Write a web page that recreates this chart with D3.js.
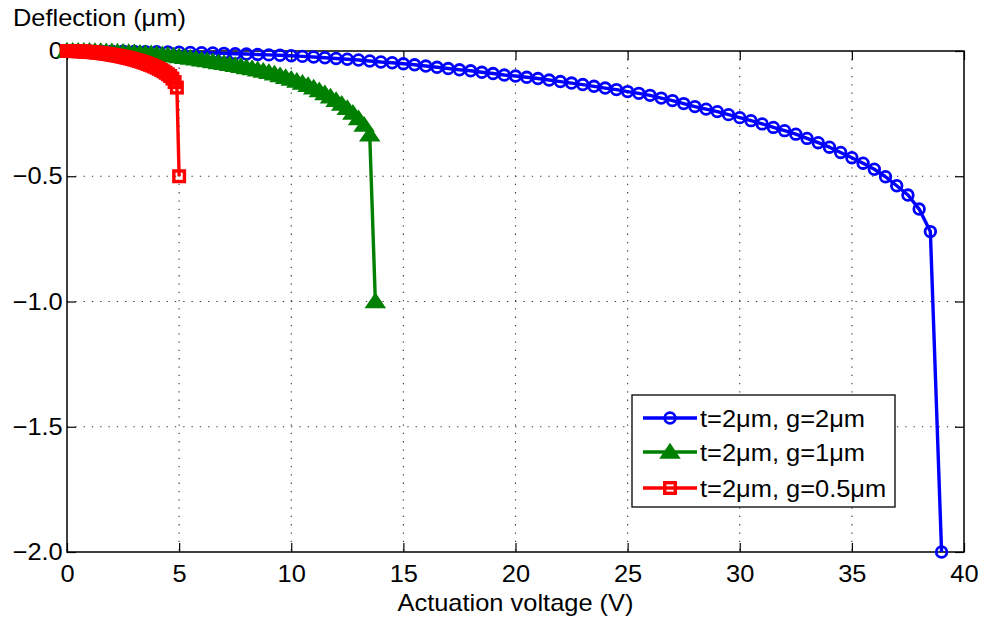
<!DOCTYPE html>
<html>
<head>
<meta charset="utf-8">
<script src="https://cdn.jsdelivr.net/npm/d3@7"></script>
<style>
  body { margin: 0; background: #fff; }
  text { font-family: "Liberation Sans", Arial, Helvetica, sans-serif; fill: #000; }
</style>
</head>
<body>
<svg id="chart" width="983" height="622"></svg>
<script>
// --- data ---

// voltage sweeps (start, step, last)
var blueSweep = [0, 0.5, 39]
var greenSweep = [0, 0.25, 13.75]
var redSweep = [0, 0.1, 5.0]

// deflection (um), t=2um g=2um
var blueDefl = [
  0, -0.0001, -0.0002, -0.0004, -0.0008, -0.0012, -0.0017, -0.0023, -0.003, -0.0038,
  -0.0047, -0.0057, -0.0068, -0.008, -0.0093, -0.0107, -0.0122, -0.0138, -0.0155, -0.0172,
  -0.019, -0.0215, -0.024, -0.027, -0.030, -0.033, -0.036, -0.040, -0.044, -0.047,
  -0.051, -0.055, -0.060, -0.065, -0.070, -0.075, -0.079, -0.085, -0.090, -0.096,
  -0.100, -0.105, -0.110, -0.116, -0.122, -0.128, -0.134, -0.141, -0.148, -0.154,
  -0.162, -0.169, -0.177, -0.188, -0.198, -0.210, -0.222, -0.232, -0.242, -0.254,
  -0.266, -0.278, -0.291, -0.305, -0.318, -0.332, -0.349, -0.366, -0.384, -0.405,
  -0.426, -0.448, -0.472, -0.502, -0.538, -0.575, -0.631, -0.721, -2.0
]

// deflection (um), t=2um g=1um
var greenDefl = [
  0, -0.0001, -0.0002, -0.0005, -0.0008, -0.0012, -0.0017, -0.0023, -0.003, -0.0039,
  -0.0048, -0.0058, -0.0069, -0.0081, -0.0094, -0.011, -0.013, -0.015, -0.017, -0.0195,
  -0.0225, -0.025, -0.028, -0.031, -0.035, -0.038, -0.042, -0.046, -0.049, -0.053,
  -0.057, -0.061, -0.066, -0.070, -0.075, -0.080, -0.085, -0.091, -0.098, -0.105,
  -0.112, -0.120, -0.128, -0.137, -0.147, -0.158, -0.170, -0.183, -0.197, -0.212,
  -0.229, -0.248, -0.270, -0.296, -0.335, -1.0
]

// deflection (um), t=2um g=0.5um
var redDefl = [
  0, 0, -0.0001, -0.0003, -0.0006, -0.0009, -0.0013, -0.0018, -0.0023, -0.003,
  -0.0037, -0.0045, -0.0053, -0.0062, -0.0072, -0.0083, -0.0094, -0.0107, -0.012, -0.0134,
  -0.0149, -0.0165, -0.018, -0.0198, -0.0216, -0.0235, -0.0255, -0.0276, -0.0298, -0.032,
  -0.0345, -0.037, -0.0396, -0.0424, -0.0453, -0.0484, -0.0517, -0.0551, -0.0587, -0.0626,
  -0.0668, -0.0712, -0.076, -0.0812, -0.0868, -0.093, -0.100, -0.110, -0.124, -0.146,
  -0.5
]

var xTicks = [0, 5, 10, 15, 20, 25, 30, 35, 40]
var yTicks = [0, -0.5, -1.0, -1.5, -2.0]
var legendNames = ['t=2\u03bcm, g=2\u03bcm', 't=2\u03bcm, g=1\u03bcm', 't=2\u03bcm, g=0.5\u03bcm']
var colors = ['#0000ff', '#008000', '#ff0000']

// --- setup ---
var svg = d3.select('#chart')
var stretch = 'scale(1.06,1)'
var fontSize = 24

var x = d3.scaleLinear().domain([0, 40]).range([67, 964])
var y = d3.scaleLinear().domain([-2, 0]).range([552, 51])

function volts(sw, n) {
  return d3.range(n).map(function(i) { return +(sw[0] + i * sw[1]).toFixed(3) })
}

var series = [
  { v: volts(blueSweep, blueDefl.length), d: blueDefl, marker: 'circle' },
  { v: volts(greenSweep, greenDefl.length), d: greenDefl, marker: 'triangle' },
  { v: volts(redSweep, redDefl.length), d: redDefl, marker: 'square' }
]

svg.append('rect').attr('width', 983).attr('height', 622).attr('fill', '#fff')

// grid
var grid = svg.append('g').attr('stroke', '#333').attr('stroke-width', 1.1).attr('stroke-dasharray', '1.3,7')
grid.selectAll('.gx').data(xTicks.slice(1, -1)).join('line')
  .attr('x1', function(d) { return x(d) }).attr('x2', function(d) { return x(d) })
  .attr('y1', y(0)).attr('y2', y(-2))
grid.selectAll('.gy').data(yTicks.slice(1, -1)).join('line')
  .attr('y1', function(d) { return y(d) }).attr('y2', function(d) { return y(d) })
  .attr('x1', x(0)).attr('x2', x(40))

// axes
var gx = svg.append('g').attr('transform', 'translate(0,' + y(-2) + ')')
  .call(d3.axisBottom(x).tickValues(xTicks).tickSize(-9).tickPadding(13).tickFormat(d3.format('d')))
var gy = svg.append('g').attr('transform', 'translate(' + x(0) + ',0)')
  .call(d3.axisLeft(y).tickValues(yTicks).tickSize(-9).tickPadding(4)
    .tickFormat(function(d) { return d === 0 ? '0' : d3.format('.1f')(d) }))
var gt = svg.append('g').attr('transform', 'translate(0,' + y(0) + ')')
  .call(d3.axisTop(x).tickValues(xTicks).tickSize(-9).tickFormat(''))
var gr = svg.append('g').attr('transform', 'translate(' + x(40) + ',0)')
  .call(d3.axisRight(y).tickValues(yTicks).tickSize(-9).tickFormat(''))

;[gx, gy, gt, gr].forEach(function(g) {
  g.select('.domain').remove()
  g.selectAll('line').attr('stroke', '#000').attr('stroke-width', 1.2)
  g.selectAll('text').attr('font-size', fontSize).attr('font-family', null).attr('fill', '#000').attr('transform', stretch)
})

svg.append('rect')
  .attr('x', x(0)).attr('y', y(0))
  .attr('width', x(40) - x(0)).attr('height', y(-2) - y(0))
  .attr('fill', 'none').attr('stroke', '#000').attr('stroke-width', 1.5)

// axis labels
svg.append('text').attr('transform', 'translate(13,26) ' + stretch)
  .attr('font-size', fontSize).text('Deflection (\u03bcm)')
svg.append('text').attr('transform', 'translate(' + ((x(0) + x(40)) / 2) + ',611) ' + stretch)
  .attr('text-anchor', 'middle').attr('font-size', fontSize).text('Actuation voltage (V)')

// markers
function drawMarker(g, type, color) {
  if (type === 'circle') {
    g.append('circle').attr('r', 5.3).attr('fill', 'none').attr('stroke', color).attr('stroke-width', 2.8)
  } else if (type === 'triangle') {
    g.append('path').attr('d', 'M0,-7L8.5,5.5L-8.5,5.5Z').attr('fill', color)
      .attr('stroke', color).attr('stroke-width', 2.4).attr('stroke-linejoin', 'miter')
  } else {
    g.append('rect').attr('x', -5.3).attr('y', -5.3).attr('width', 10.6).attr('height', 10.6)
      .attr('fill', 'none').attr('stroke', color).attr('stroke-width', 3.4)
  }
}

var line = d3.line()
series.forEach(function(s, i) {
  var pts = s.v.map(function(v, k) { return [x(v), y(s.d[k])] })
  var g = svg.append('g')
  g.append('path').attr('d', line(pts)).attr('fill', 'none')
    .attr('stroke', colors[i]).attr('stroke-width', 3.4).attr('stroke-linejoin', 'round')
  pts.forEach(function(p) {
    drawMarker(g.append('g').attr('transform', 'translate(' + p[0] + ',' + p[1] + ')'), s.marker, colors[i])
  })
})

// legend
var leg = svg.append('g')
leg.append('rect').attr('x', 632).attr('y', 395).attr('width', 263).attr('height', 112)
  .attr('fill', '#fff').attr('stroke', '#000').attr('stroke-width', 1.3)
var legY = [418, 452, 488]
series.forEach(function(s, i) {
  var row = leg.append('g').attr('transform', 'translate(0,' + legY[i] + ')')
  row.append('line').attr('x1', 643).attr('x2', 697).attr('stroke', colors[i]).attr('stroke-width', 3.4)
  drawMarker(row.append('g').attr('transform', 'translate(670,0)'), s.marker, colors[i])
  row.append('text').attr('transform', 'translate(700,9) ' + stretch)
    .attr('font-size', fontSize).text(legendNames[i])
})
</script>
</body>
</html>
